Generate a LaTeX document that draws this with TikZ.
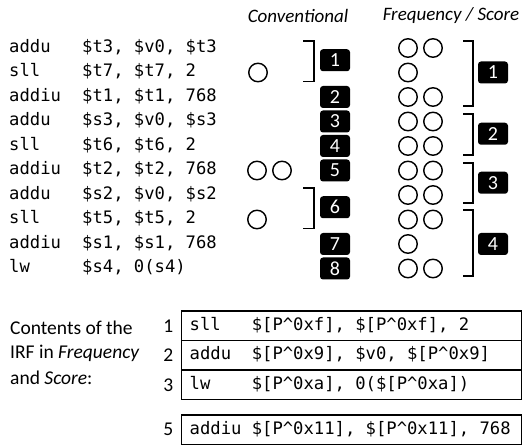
\documentclass[tikz,border=0pt]{standalone}
\usepackage{fontspec}
\setmainfont{Carlito}
\setmonofont{DejaVu Sans Mono}
\usepackage{tikz}
\usetikzlibrary{positioning}

\tikzset{
  code/.style={font=\ttfamily\fontsize{17.2}{20}\selectfont, anchor=west, inner sep=0pt,
    text height=12pt, text depth=3pt},
  head/.style={font=\fontsize{19}{20}\selectfont\itshape},
  numbox/.style={fill=black, rounded corners=3pt, text=white, minimum width=30pt,
    minimum height=22pt, inner sep=0pt, font=\fontsize{20}{20}\selectfont},
  reg/.style={circle, draw, line width=1.4pt, minimum size=18.5pt, inner sep=0pt},
  brak/.style={line width=1.2pt},
  irfbox/.style={draw, line width=1.6pt, anchor=west, minimum width=340pt,
    minimum height=29.5pt, inner sep=0pt},
  irfidx/.style={font=\fontsize{19.5}{20}\selectfont, inner sep=0pt},
  note/.style={font=\fontsize{19.5}{20}\selectfont, anchor=west, inner sep=0pt}
}

\begin{document}
\begin{tikzpicture}[x=1pt, y=-1pt]
  \useasboundingbox (0,0) rectangle (522,446);

  % headers
  \node[head] (hconv) at (298,16) {Conventional};
  \node[head] (hfreq) at (451,16) {Frequency / Score};

  % code listing
  \foreach \op/\arg [count=\i] in {addu/{\$t3, \$v0, \$t3}, sll/{\$t7, \$t7, 2},
      addiu/{\$t1, \$t1, 768}, addu/{\$s3, \$v0, \$s3}, sll/{\$t6, \$t6, 2},
      addiu/{\$t2, \$t2, 768}, addu/{\$s2, \$v0, \$s2}, sll/{\$t5, \$t5, 2},
      addiu/{\$s1, \$s1, 768}, lw/{\$s4, 0(s4)}} {
    \node[code] (op\i) at (9, {48+24.5*(\i-1)}) {\op};
    \node[code] (arg\i) at (82, {48+24.5*(\i-1)}) {\arg};
  }

  % conventional: circles
  \node[reg] (cv2) at (258,72.5) {};
  \node[reg] (cv6a) at (257,170.5) {};
  \node[reg] (cv6b) at (282,170.5) {};
  \node[reg] (cv8) at (257,219.5) {};

  % conventional: brackets and numbers
  \foreach \t/\b in {41/81.5, 188/228.5}
    \draw[brak] (303,\t) -- (314,\t) -- (314,\b) -- (303,\b);
  \foreach \n/\y in {1/60.25, 2/97, 3/121.5, 4/146, 5/170.5, 6/207.25, 7/244, 8/268.5}
    \node[numbox] (cn\n) at (335,\y) {\n};

  % frequency / score: circles
  \foreach \k [count=\i] in {2,1,2,2,2,2,2,2,1,2} {
    \node[reg] (fa\i) at (408, {48+24.5*(\i-1)}) {};
    \ifnum\k=2 \node[reg] (fb\i) at (433, {48+24.5*(\i-1)}) {}; \fi
  }

  % frequency / score: brackets and numbers
  \foreach \t/\b in {41/106, 114/155, 163/203, 210/276}
    \draw[brak] (463,\t) -- (473,\t) -- (473,\b) -- (463,\b);
  \foreach \n/\y in {1/72.5, 2/133.75, 3/182.75, 4/244}
    \node[numbox] (fn\n) at (493,\y) {\n};

  % IRF contents
  \node[note] (irfa) at (10,328) {Contents of the};
  \node[note] (irfb) at (10,353) {IRF in \textit{Frequency}};
  \node[note] (irfc) at (10,378) {and \textit{Score}:};

  \foreach \n/\y in {1/325.75, 2/355.25, 3/384.75, 5/429.75} {
    \node[irfbox] (irf\n) at (180.5,\y) {};
    \node[irfidx, left=7pt of irf\n] (ix\n) {\n};
  }
  \node[code, right=9pt of irf1.west] (irft1) {sll\ \ \ \$[P\textasciicircum0xf], \$[P\textasciicircum0xf], 2};
  \node[code, right=9pt of irf2.west] (irft2) {addu\ \ \$[P\textasciicircum0x9], \$v0, \$[P\textasciicircum0x9]};
  \node[code, right=9pt of irf3.west] (irft3) {lw\ \ \ \ \$[P\textasciicircum0xa], 0(\$[P\textasciicircum0xa])};
  \node[code, right=9pt of irf5.west] (irft5) {addiu \$[P\textasciicircum0x11], \$[P\textasciicircum0x11], 768};
\end{tikzpicture}
\end{document}
